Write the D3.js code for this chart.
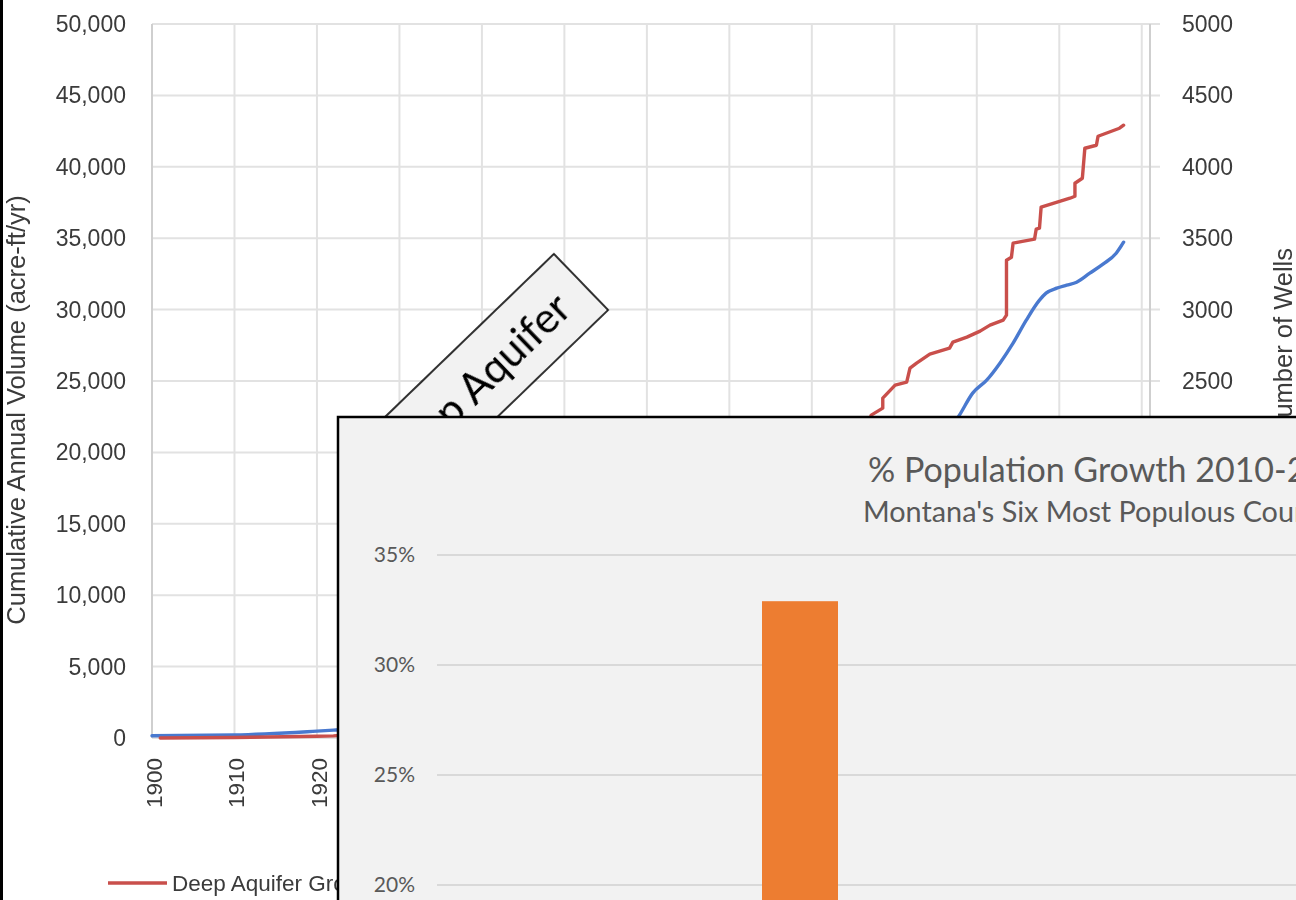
<!DOCTYPE html>
<html>
<head>
<meta charset="utf-8">
<script src="https://cdn.jsdelivr.net/npm/d3@7"></script>
<style>
  html, body { margin: 0; padding: 0; background: #ffffff; }
  svg { display: block; }
</style>
</head>
<body>
<svg id="chart" width="1296" height="900"></svg>
<script>
// ---- Deep aquifer groundwater: cumulative volume and well count ----
const volumeYears = [1901, 1910, 1920, 1922, 1940, 1960, 1975, 1985, 1987.2, 1988.6, 1988.6, 1990.1, 1991.5, 1991.9, 1992.7, 1994.3, 1996.7, 1997.1, 1998.8, 2000.4, 2001.6, 2003.2, 2003.6, 2003.6, 2004.2, 2004.4, 2007.0, 2007.2, 2007.6, 2007.8, 2011.3, 2011.9, 2011.9, 2012.8, 2013.1, 2014.5, 2014.7, 2017.3, 2017.8];
const volumeValues = [0, 40, 120, 150, 900, 3000, 9000, 19000, 22610, 23100, 23800, 24710, 24920, 25900, 26250, 26880, 27300, 27720, 28070, 28490, 28910, 29260, 29610, 33460, 33670, 34650, 34930, 35630, 35700, 37170, 37800, 37940, 38850, 39200, 41300, 41510, 42140, 42700, 42910];

const wellYears = [1900, 1910, 1920, 1922, 1940, 1960, 1975, 1990, 1997.9, 1999.5, 2001.2, 2002.8, 2004.4, 2006.0, 2007.6, 2008.4, 2009.7, 2010.9, 2012.1, 2013.7, 2015.3, 2016.9, 2017.8];
const wellValues = [16, 21, 48, 55, 150, 400, 900, 1700, 2261, 2415, 2506, 2625, 2765, 2926, 3066, 3115, 3150, 3171, 3192, 3255, 3318, 3395, 3472];

const yearTicks = [1900, 1910, 1920, 1930, 1940, 1950, 1960, 1970, 1980, 1990, 2000, 2010, 2020];
const volumeTicks = [0, 5000, 10000, 15000, 20000, 25000, 30000, 35000, 40000, 45000, 50000];
const wellTicks = [0, 500, 1000, 1500, 2000, 2500, 3000, 3500, 4000, 4500, 5000];

const volumeLabel = "Cumulative Annual Volume (acre-ft/yr)";
const wellLabel = "Number of Wells";
const legendNames = ["Deep Aquifer Groundwater Rights", "Number of Wells"];
const calloutText = "Deep Aquifer";

// ---- Population growth 2010-2020, Montana's six most populous counties ----
const counties = ["Yellowstone", "Gallatin", "Missoula", "Flathead", "Cascade", "Lewis and Clark"];
const growth = [0.113, 0.329, 0.079, 0.148, 0.038, 0.120];
const countyColors = ["#4472C4", "#ED7D31", "#A5A5A5", "#FFC000", "#5B9BD5", "#70AD47"];
const growthTicks = [0, 0.05, 0.10, 0.15, 0.20, 0.25, 0.30, 0.35];
const popTitle = "% Population Growth 2010-2020";
const popSubtitle = "Montana's Six Most Populous Counties";

const svg = d3.select("#chart");
const sans = "'Liberation Sans', Arial, sans-serif";
const cal = "Lato, 'Open Sans', sans-serif";
const RED = "#c9504c", BLUE = "#4a79cf", GRID = "#e2e2e2", TXT = "#3a3a3a";

// inset panel geometry (the bar chart card laid over the line chart)
const INSET = { x: 338, y: 417 };

const defs = svg.append("defs");
defs.append("filter").attr("id", "soft").attr("x", "-5%").attr("y", "-5%").attr("width", "110%").attr("height", "110%")
  .append("feGaussianBlur").attr("stdDeviation", 0.45);
// everything of the line chart that is not under the inset card
defs.append("clipPath").attr("id", "outsideInset").append("path")
  .attr("d", `M0,0H1296V${INSET.y}H${INSET.x}V900H0Z`);

// main chart scales
const x = d3.scaleLinear().domain([1900, 2021]).range([152, 1150]);
const yL = d3.scaleLinear().domain([0, 50000]).range([738, 24]);
const yR = d3.scaleLinear().domain([0, 5000]).range([738, 24]);

const main = svg.append("g").attr("clip-path", "url(#outsideInset)")
  .append("g").attr("filter", "url(#soft)");

// horizontal grid
main.append("g").selectAll("line").data(volumeTicks).join("line")
  .attr("x1", 152).attr("x2", 1160)
  .attr("y1", d => yL(d)).attr("y2", d => yL(d))
  .attr("stroke", GRID).attr("stroke-width", 2);
// vertical grid
main.append("g").selectAll("line").data(yearTicks).join("line")
  .attr("x1", d => x(d)).attr("x2", d => x(d))
  .attr("y1", 24).attr("y2", 738)
  .attr("stroke", GRID).attr("stroke-width", 2);
// axis lines
main.append("line").attr("x1", x(1900)).attr("x2", x(1900)).attr("y1", 24).attr("y2", 738)
  .attr("stroke", "#cfcfcf").attr("stroke-width", 2);
main.append("line").attr("x1", x(2021)).attr("x2", x(2021)).attr("y1", 24).attr("y2", 738)
  .attr("stroke", "#cfcfcf").attr("stroke-width", 2);

// left tick labels
const fmt = d3.format(",");
main.append("g").selectAll("text").data(volumeTicks).join("text")
  .attr("x", 126).attr("y", d => yL(d)).attr("dy", "0.35em")
  .attr("text-anchor", "end").attr("font-family", sans).attr("font-size", 23).attr("fill", TXT)
  .text(d => fmt(d));
// right tick labels
main.append("g").selectAll("text").data(wellTicks).join("text")
  .attr("x", 1182).attr("y", d => yR(d)).attr("dy", "0.35em")
  .attr("text-anchor", "start").attr("font-family", sans).attr("font-size", 23).attr("fill", TXT)
  .text(d => d);
// year labels
main.append("g").selectAll("text").data(yearTicks).join("text")
  .attr("transform", d => `translate(${x(d) + 2},758) rotate(-90)`)
  .attr("dy", "0.35em").attr("text-anchor", "end")
  .attr("font-family", sans).attr("font-size", 22.5).attr("fill", TXT)
  .text(d => d);

// axis titles
main.append("text").attr("transform", "translate(16,410) rotate(-90)")
  .attr("dy", "0.35em").attr("text-anchor", "middle")
  .attr("font-family", sans).attr("font-size", 25.5).attr("fill", TXT).text(volumeLabel);
main.append("text").attr("transform", "translate(1283,342) rotate(-90)")
  .attr("dy", "0.35em").attr("text-anchor", "middle")
  .attr("font-family", sans).attr("font-size", 25.5).attr("fill", TXT).text(wellLabel);

// series
const volLine = d3.line().x((d, i) => x(volumeYears[i])).y(d => yL(d));
const wellLine = d3.line().curve(d3.curveMonotoneX).x((d, i) => x(wellYears[i])).y(d => yR(d));
main.append("path").attr("d", wellLine(wellValues)).attr("fill", "none")
  .attr("stroke", BLUE).attr("stroke-width", 3.4).attr("stroke-linejoin", "round").attr("stroke-linecap", "round");
main.append("path").attr("d", volLine(volumeValues)).attr("fill", "none")
  .attr("stroke", RED).attr("stroke-width", 3.4).attr("stroke-linejoin", "round").attr("stroke-linecap", "round");

// legend
const legend = main.append("g");
[[RED, 108], [BLUE, 560]].forEach(([c, lx], i) => {
  legend.append("line").attr("x1", lx).attr("x2", lx + 59).attr("y1", 883).attr("y2", 883)
    .attr("stroke", c).attr("stroke-width", 3.5);
  legend.append("text").attr("x", lx + 64).attr("y", 883).attr("dy", "0.35em")
    .attr("font-family", sans).attr("font-size", 22.5).attr("fill", TXT).text(legendNames[i]);
});

// left edge rule
svg.append("rect").attr("x", 0).attr("y", 0).attr("width", 3).attr("height", 900).attr("fill", "#000");

// rotated callout
const callout = svg.append("g").attr("transform", "translate(581,282) rotate(-44)");
callout.append("rect").attr("x", -290).attr("y", -39).attr("width", 290).attr("height", 78)
  .attr("fill", "#f2f2f2").attr("stroke", "#000").attr("stroke-width", 1.6);
callout.append("text").attr("x", -26).attr("y", 16).attr("text-anchor", "end")
  .attr("font-family", cal).attr("font-size", 42).attr("fill", "#000").text(calloutText);

// ---- inset bar chart ----
const inset = svg.append("g");
inset.append("rect").attr("x", INSET.x).attr("y", INSET.y).attr("width", 1100).attr("height", 700)
  .attr("fill", "#f2f2f2").attr("stroke", "#000").attr("stroke-width", 2.5);

const yG = d3.scaleLinear().domain([0, 0.35]).range([1325, 555]);
const xb = d3.scaleBand().domain(counties).range([437, 437 + 242 * counties.length])
  .paddingInner(1 - 76 / 242).paddingOuter((1 - 76 / 242) / 2);

inset.append("g").selectAll("line").data(growthTicks).join("line")
  .attr("x1", 437).attr("x2", 1296 + 600)
  .attr("y1", d => yG(d)).attr("y2", d => yG(d))
  .attr("stroke", "#d9d9d9").attr("stroke-width", 2);
inset.append("g").selectAll("text").data(growthTicks).join("text")
  .attr("x", 415).attr("y", d => yG(d)).attr("dy", "0.35em").attr("text-anchor", "end")
  .attr("font-family", cal).attr("font-size", 21).attr("fill", "#595959")
  .text(d => d3.format(".0%")(d));
inset.append("g").selectAll("rect").data(growth).join("rect")
  .attr("x", (d, i) => xb(counties[i])).attr("width", xb.bandwidth())
  .attr("y", d => yG(d)).attr("height", d => yG(0) - yG(d))
  .attr("fill", (d, i) => countyColors[i]);

inset.append("text").attr("x", 868).attr("y", 482).attr("text-anchor", "start")
  .attr("font-family", cal).attr("font-size", 34).attr("fill", "#595959").text(popTitle);
inset.append("text").attr("x", 863).attr("y", 522).attr("text-anchor", "start")
  .attr("font-family", cal).attr("font-size", 28.8).attr("fill", "#595959").text(popSubtitle);
</script>
</body>
</html>
